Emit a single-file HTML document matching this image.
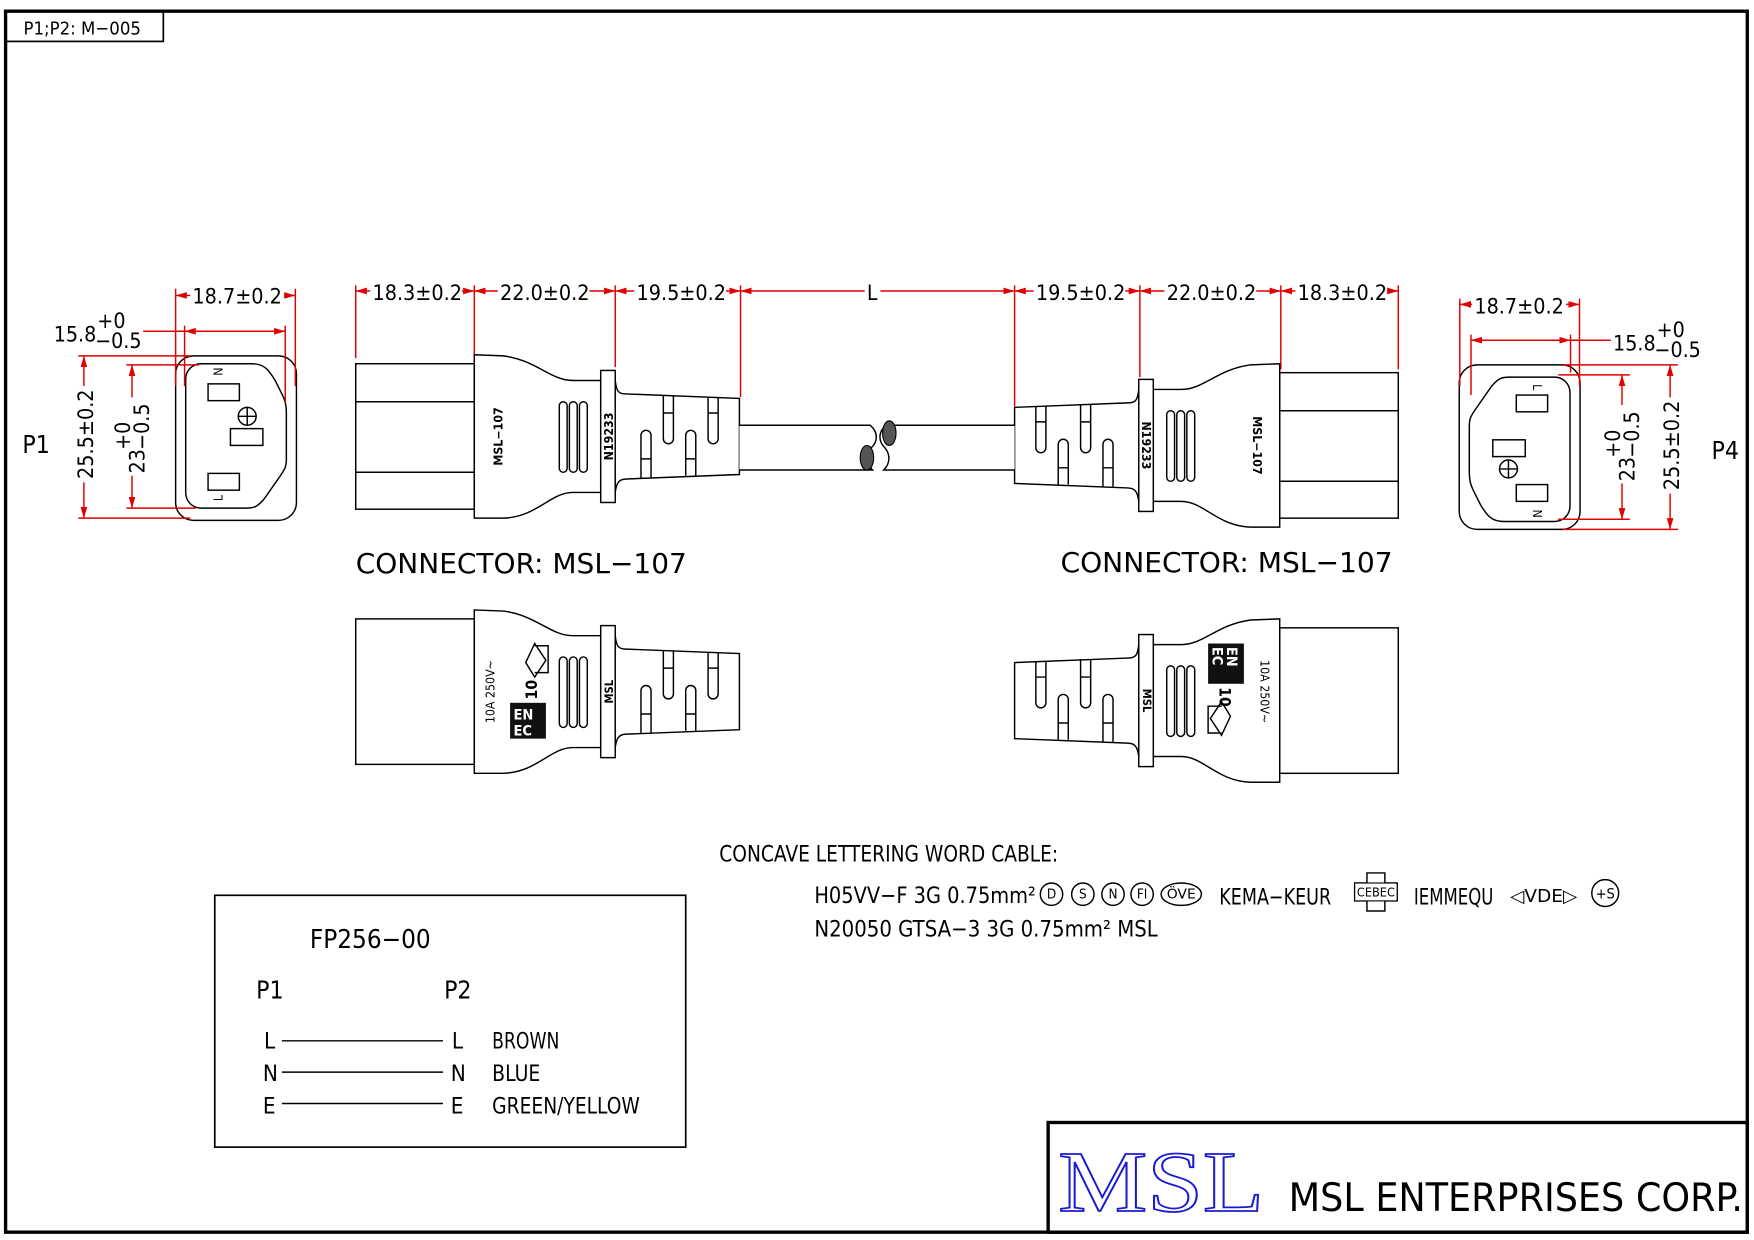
<!DOCTYPE html>
<html><head><meta charset="utf-8">
<style>
html,body{margin:0;padding:0;background:#fff;}
svg{display:block;}
text{font-family:"Liberation Sans Narrow","DejaVu Sans Condensed","Liberation Sans",sans-serif;fill:#000;}
.r{stroke:#e00000;stroke-width:1.3;fill:none;}
.k{stroke:#000;stroke-width:1.3;fill:none;}
.kw{stroke:#000;stroke-width:1.3;fill:#fff;}
</style></head><body>
<svg width="1754" height="1240" viewBox="0 0 1568 1108" preserveAspectRatio="none" xmlns="http://www.w3.org/2000/svg">
<defs>
<marker id="ar" viewBox="0 0 10 6" refX="10" refY="3" markerWidth="10" markerHeight="6" orient="auto-start-reverse" markerUnits="userSpaceOnUse">
<path d="M0,0 L10,3 L0,6 z" fill="#e00000"/></marker>

<g id="body">
<path class="kw" d="M424,317 L450,318 C480,322 492,340 512,340 L537,340 L537,440 L512,440 C492,440 480,462 450,463 L424,463 Z"/>
<rect class="kw" x="537" y="331" width="13" height="118"/>
<path class="kw" d="M550,340 C551,350 553,352 560,352 L661,356 L661,424 L560,428 C553,428 551,432 550,440 Z"/>
<rect class="kw" x="500" y="359" width="7" height="63" rx="3.5"/>
<rect class="kw" x="509" y="359" width="7" height="63" rx="3.5"/>
<rect class="kw" x="518" y="359" width="7" height="63" rx="3.5"/>
<path class="k" d="M593,353 L593,392 A4.5,4.5 0 0 0 602,392 L602,353 M593,369 L602,369"/>
<path class="k" d="M633,355 L633,392 A4.5,4.5 0 0 0 642,392 L642,355 M633,369 L642,369"/>
<path class="k" d="M573,427 L573,389 A4.5,4.5 0 0 1 582,389 L582,427 M573,410 L582,410"/>
<path class="k" d="M613,425 L613,389 A4.5,4.5 0 0 1 622,389 L622,425 M613,410 L622,410"/>
</g>

<g id="face">
<rect class="k" x="157" y="318" width="108" height="147" rx="16"/>
<path class="k" d="M180,325 L225,325 C236,325 240,330 246,340 L252,352 C255,358 256,362 256,370 L256,410 C256,418 254,420 250,426 L236,446 C230,453 227,454 220,454 L180,454 C172,454 166,448 166,440 L166,339 C166,331 172,325 180,325 Z"/>
<rect class="k" x="186" y="343" width="28" height="15"/>
<rect class="k" x="206" y="383" width="29" height="15"/>
<circle class="k" cx="221" cy="372" r="8"/>
<path class="k" d="M213,372 L229,372 M221,364 L221,380"/>
<rect class="k" x="186" y="423" width="28" height="15"/>
<text x="0" y="0" font-size="11" transform="translate(199,332) rotate(-90)" text-anchor="middle">N</text>
<text x="0" y="0" font-size="11" transform="translate(199,445) rotate(-90)" text-anchor="middle">L</text>
</g>
</defs>

<rect x="5" y="10" width="1557" height="1091" fill="none" stroke="#000" stroke-width="3"/>
<rect x="5" y="10" width="141" height="27" fill="none" stroke="#000" stroke-width="1.5"/>
<text x="21" y="31" font-size="16" textLength="105" lengthAdjust="spacingAndGlyphs">P1;P2:  M−005</text>

<rect x="937" y="1003" width="625" height="98" fill="none" stroke="#000" stroke-width="3"/>
<text x="946" y="1082" font-size="78" style="font-family:'Liberation Serif',serif;fill:#fff;stroke:#1a1ad0;stroke-width:1.6" textLength="184" lengthAdjust="spacingAndGlyphs">MSL</text>
<text x="1152" y="1082" font-size="35" textLength="406" lengthAdjust="spacingAndGlyphs">MSL  ENTERPRISES  CORP.</text>

<g class="r">
<path d="M318,255 L318,320 M424,255 L424,320 M550,255 L550,328 M662,255 L662,355 M907,255 L907,363 M1019,255 L1019,337 M1145,255 L1145,330 M1250,255 L1250,330"/>
<line x1="318" y1="260" x2="424" y2="260" marker-start="url(#ar)" marker-end="url(#ar)"/>
<line x1="424" y1="260" x2="550" y2="260" marker-start="url(#ar)" marker-end="url(#ar)"/>
<line x1="550" y1="260" x2="662" y2="260" marker-start="url(#ar)" marker-end="url(#ar)"/>
<line x1="662" y1="260" x2="907" y2="260" marker-start="url(#ar)" marker-end="url(#ar)"/>
<line x1="907" y1="260" x2="1019" y2="260" marker-start="url(#ar)" marker-end="url(#ar)"/>
<line x1="1019" y1="260" x2="1145" y2="260" marker-start="url(#ar)" marker-end="url(#ar)"/>
<line x1="1145" y1="260" x2="1250" y2="260" marker-start="url(#ar)" marker-end="url(#ar)"/>
</g>
<g font-size="19">
<rect x="331" y="249" width="82" height="20" fill="#fff"/><text x="333" y="268" textLength="80" lengthAdjust="spacingAndGlyphs">18.3±0.2</text>
<rect x="445" y="249" width="82" height="20" fill="#fff"/><text x="447" y="268" textLength="80" lengthAdjust="spacingAndGlyphs">22.0±0.2</text>
<rect x="567" y="249" width="82" height="20" fill="#fff"/><text x="569" y="268" textLength="80" lengthAdjust="spacingAndGlyphs">19.5±0.2</text>
<rect x="773" y="249" width="14" height="20" fill="#fff"/><text x="775" y="268">L</text>
<rect x="924" y="249" width="82" height="20" fill="#fff"/><text x="926" y="268" textLength="80" lengthAdjust="spacingAndGlyphs">19.5±0.2</text>
<rect x="1041" y="249" width="82" height="20" fill="#fff"/><text x="1043" y="268" textLength="80" lengthAdjust="spacingAndGlyphs">22.0±0.2</text>
<rect x="1158" y="249" width="82" height="20" fill="#fff"/><text x="1160" y="268" textLength="80" lengthAdjust="spacingAndGlyphs">18.3±0.2</text>
</g>

<rect class="kw" x="318" y="325" width="106" height="130"/>
<path class="k" d="M318,359 L424,359 M318,422 L424,422"/>
<use href="#body"/>
<text font-size="11" font-weight="bold" transform="translate(449,390) rotate(-90)" text-anchor="middle">MSL−107</text>
<text font-size="11" font-weight="bold" transform="translate(548,390) rotate(-90)" text-anchor="middle">N19233</text>
<path class="kw" d="M661,380 L778,380 C785,386 785,394 779,400 C774,406 774,414 780,420 L661,420"/>
<ellipse cx="775" cy="409" rx="6" ry="11" fill="#555" stroke="#000"/>

<g transform="translate(1568,8) scale(-1,1)">
<rect class="kw" x="318" y="325" width="106" height="130"/>
<path class="k" d="M318,359 L424,359 M318,422 L424,422"/>
<use href="#body"/>
<path class="kw" d="M661,372 L776,372 C783,378 783,386 777,392 C772,398 772,406 778,412 L661,412"/>
<ellipse cx="773" cy="379" rx="6" ry="11" fill="#555" stroke="#000"/>
</g>
<text font-size="11" font-weight="bold" transform="translate(1120,398) rotate(90)" text-anchor="middle">MSL−107</text>
<text font-size="11" font-weight="bold" transform="translate(1021,398) rotate(90)" text-anchor="middle">N19233</text>

<use href="#face"/>
<g class="r">
<path d="M157,258 L157,345 M264,258 L264,345"/>
<line x1="157" y1="264" x2="264" y2="264" marker-start="url(#ar)" marker-end="url(#ar)"/>
<path d="M165,291 L165,345 M255,291 L255,360 M128,296 L165,296"/>
<line x1="165" y1="296" x2="255" y2="296" marker-start="url(#ar)" marker-end="url(#ar)"/>
<path d="M70,318 L170,318 M70,463 L170,463"/>
<line x1="75" y1="318" x2="75" y2="463" marker-start="url(#ar)" marker-end="url(#ar)"/>
<path d="M113,326 L178,326 M113,454 L175,454"/>
<line x1="118" y1="326" x2="118" y2="454" marker-start="url(#ar)" marker-end="url(#ar)"/>
</g>
<rect x="170" y="253" width="84" height="20" fill="#fff"/>
<text x="172" y="271" font-size="19" textLength="80" lengthAdjust="spacingAndGlyphs">18.7±0.2</text>
<text x="48" y="305" font-size="19">15.8</text>
<text x="87" y="293" font-size="19">+0</text>
<text x="85" y="311" font-size="19">−0.5</text>
<rect x="66" y="345" width="18" height="86" fill="#fff"/>
<text font-size="19" transform="translate(83,388) rotate(-90)" text-anchor="middle" textLength="80" lengthAdjust="spacingAndGlyphs">25.5±0.2</text>
<rect x="106" y="355" width="30" height="70" fill="#fff"/>
<text font-size="19" transform="translate(129,423) rotate(-90)">23</text>
<text font-size="19" transform="translate(116,402) rotate(-90)">+0</text>
<text font-size="19" transform="translate(133,402) rotate(-90)">−0.5</text>
<text x="20" y="405" font-size="22">P1</text>

<use href="#face" transform="rotate(180 784.75 395.5)"/>
<g class="r">
<path d="M1305,267 L1305,345 M1412,267 L1412,345"/>
<line x1="1305" y1="272" x2="1412" y2="272" marker-start="url(#ar)" marker-end="url(#ar)"/>
<path d="M1315,299 L1315,353 M1404,299 L1404,333 M1404,304 L1440,304"/>
<line x1="1315" y1="304" x2="1404" y2="304" marker-start="url(#ar)" marker-end="url(#ar)"/>
<path d="M1397,326 L1500,326 M1397,473 L1500,473"/>
<line x1="1493" y1="326" x2="1493" y2="473" marker-start="url(#ar)" marker-end="url(#ar)"/>
<path d="M1393,335 L1457,335 M1393,464 L1457,464"/>
<line x1="1450" y1="335" x2="1450" y2="464" marker-start="url(#ar)" marker-end="url(#ar)"/>
</g>
<rect x="1316" y="262" width="84" height="20" fill="#fff"/>
<text x="1318" y="280" font-size="19" textLength="80" lengthAdjust="spacingAndGlyphs">18.7±0.2</text>
<text x="1442" y="313" font-size="19">15.8</text>
<text x="1481" y="301" font-size="19">+0</text>
<text x="1479" y="319" font-size="19">−0.5</text>
<rect x="1484" y="355" width="18" height="86" fill="#fff"/>
<text font-size="19" transform="translate(1501,398) rotate(-90)" text-anchor="middle" textLength="80" lengthAdjust="spacingAndGlyphs">25.5±0.2</text>
<rect x="1438" y="362" width="30" height="70" fill="#fff"/>
<text font-size="19" transform="translate(1461,430) rotate(-90)">23</text>
<text font-size="19" transform="translate(1448,409) rotate(-90)">+0</text>
<text font-size="19" transform="translate(1465,409) rotate(-90)">−0.5</text>
<text x="1530" y="410" font-size="22">P4</text>

<text x="318" y="512" font-size="25" textLength="296" lengthAdjust="spacingAndGlyphs">CONNECTOR:  MSL−107</text>
<text x="948" y="511" font-size="25" textLength="297" lengthAdjust="spacingAndGlyphs">CONNECTOR:  MSL−107</text>

<g transform="translate(0,228)">
<rect class="kw" x="318" y="325" width="106" height="130"/>
<use href="#body"/>
</g>
<text font-size="11" transform="translate(442,618) rotate(-90)" text-anchor="middle">10A  250V~</text>
<text font-size="10" font-weight="bold" transform="translate(548,618) rotate(-90)" text-anchor="middle">MSL</text>
<rect x="456" y="628" width="32" height="32" fill="#111"/>
<text x="459" y="643" font-size="13" font-weight="bold" style="fill:#fff">EN</text>
<text x="459" y="657" font-size="13" font-weight="bold" style="fill:#fff">EC</text>
<text font-size="14" font-weight="bold" transform="translate(480,625) rotate(-90)">10</text>
<path class="k" d="M470,592 L478,575 L488,590 L478,605 Z M478,577 L490,577 L490,601 L478,601"/>

<g transform="translate(1568,236) scale(-1,1)">
<rect class="kw" x="318" y="325" width="106" height="130"/>
<use href="#body"/>
</g>
<text font-size="11" transform="translate(1127,618) rotate(90)" text-anchor="middle">10A  250V~</text>
<text font-size="10" font-weight="bold" transform="translate(1022,626) rotate(90)" text-anchor="middle">MSL</text>
<rect x="1080" y="575" width="32" height="36" fill="#111"/>
<text font-size="13" font-weight="bold" transform="translate(1097,578) rotate(90)" style="fill:#fff">EN</text>
<text font-size="13" font-weight="bold" transform="translate(1084,578) rotate(90)" style="fill:#fff">EC</text>
<text font-size="14" font-weight="bold" transform="translate(1090,614) rotate(90)">10</text>
<path class="k" d="M1100,640 L1092,657 L1082,642 L1092,627 Z M1092,655 L1080,655 L1080,631 L1092,631"/>

<text x="643" y="770" font-size="20" textLength="303" lengthAdjust="spacingAndGlyphs">CONCAVE  LETTERING  WORD  CABLE:</text>
<text x="728" y="807" font-size="20" textLength="198" lengthAdjust="spacingAndGlyphs">H05VV−F  3G  0.75mm²</text>
<g font-size="12">
<circle class="k" cx="940" cy="799" r="10"/><text x="940" y="803" text-anchor="middle">D</text>
<circle class="k" cx="968" cy="799" r="10"/><text x="968" y="803" text-anchor="middle">S</text>
<circle class="k" cx="995" cy="799" r="10"/><text x="995" y="803" text-anchor="middle">N</text>
<circle class="k" cx="1021" cy="799" r="10"/><text x="1021" y="803" text-anchor="middle">FI</text>
<ellipse class="k" cx="1056" cy="799" rx="18" ry="10"/><text x="1056" y="803" text-anchor="middle" textLength="26" lengthAdjust="spacingAndGlyphs">ÖVE</text>
</g>
<text x="1090" y="808" font-size="20" textLength="100" lengthAdjust="spacingAndGlyphs">KEMA−KEUR</text>
<path class="k" d="M1222,780 L1238,780 L1238,789 L1249,789 L1249,805 L1238,805 L1238,814 L1222,814 L1222,805 L1211,805 L1211,789 L1222,789 Z"/>
<rect x="1211" y="789" width="38" height="16" fill="#fff" stroke="#000"/>
<text x="1230" y="801" font-size="11" text-anchor="middle" textLength="34" lengthAdjust="spacingAndGlyphs">CEBEC</text>
<text x="1264" y="808" font-size="20" textLength="71" lengthAdjust="spacingAndGlyphs">IEMMEQU</text>
<text x="1350" y="806" font-size="16" textLength="60" lengthAdjust="spacingAndGlyphs">◁VDE▷</text>
<circle class="k" cx="1435" cy="798" r="12"/><text x="1435" y="803" font-size="13" text-anchor="middle">+S</text>
<text x="728" y="837" font-size="20" textLength="307" lengthAdjust="spacingAndGlyphs">N20050  GTSA−3  3G  0.75mm² MSL</text>

<rect x="192" y="800" width="421" height="225" fill="none" stroke="#000" stroke-width="1.5"/>
<text x="277" y="847" font-size="23" textLength="108" lengthAdjust="spacingAndGlyphs">FP256−00</text>
<text x="229" y="892" font-size="22">P1</text>
<text x="397" y="892" font-size="22">P2</text>
<g font-size="20">
<text x="236" y="937">L</text><text x="404" y="937">L</text><text x="440" y="937" textLength="60" lengthAdjust="spacingAndGlyphs">BROWN</text>
<text x="235" y="966">N</text><text x="403" y="966">N</text><text x="440" y="966" textLength="43" lengthAdjust="spacingAndGlyphs">BLUE</text>
<text x="235" y="995">E</text><text x="403" y="995">E</text><text x="440" y="995" textLength="132" lengthAdjust="spacingAndGlyphs">GREEN/YELLOW</text>
</g>
<path class="k" d="M252,930 L396,930 M252,958 L396,958 M252,986 L396,986"/>
</svg>
</body></html>
